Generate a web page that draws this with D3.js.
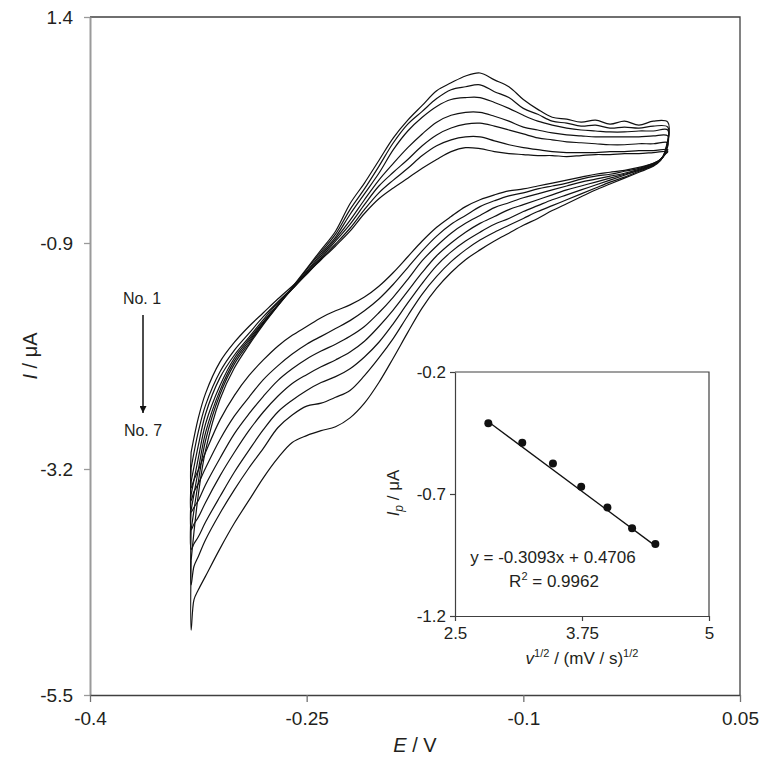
<!DOCTYPE html>
<html>
<head>
<meta charset="utf-8">
<script src="https://cdn.jsdelivr.net/npm/d3@7"></script>
<style>
  body { margin: 0; background: #fff; }
  svg { display: block; font-family: "Liberation Sans", Arial, sans-serif; }
</style>
</head>
<body>
<svg id="chart" width="771" height="777"></svg>
<script>
// potential grid (V) for the forward and the reverse sweep
const fwdE = [-0.33,-0.325,-0.32,-0.31,-0.30,-0.29,-0.28,-0.27,-0.26,-0.25,-0.24,-0.23,-0.22,-0.21,-0.20,-0.19,-0.18,-0.17,-0.16,-0.15,-0.14,-0.13,-0.12,-0.11,-0.10,-0.09,-0.08,-0.07,-0.06,-0.05,-0.04,-0.03,-0.02,-0.01,0.00];
const revE = [-0.002,-0.005,-0.01,-0.02,-0.03,-0.04,-0.05,-0.06,-0.07,-0.08,-0.09,-0.10,-0.11,-0.12,-0.13,-0.14,-0.15,-0.16,-0.17,-0.18,-0.19,-0.20,-0.21,-0.22,-0.23,-0.24,-0.25,-0.26,-0.27,-0.28,-0.29,-0.30,-0.31,-0.32,-0.325,-0.328,-0.33];

// currents (uA), voltammograms No. 1 ... No. 7
const fwd1 = [-3.03,-2.68,-2.43,-2.11,-1.91,-1.75,-1.61,-1.47,-1.34,-1.21,-1.07,-0.93,-0.78,-0.60,-0.45,-0.34,-0.24,-0.14,-0.05,0.03,0.07,0.06,0.03,0.01,0.00,-0.01,-0.01,-0.02,-0.01,0.00,0.00,0.01,0.01,0.02,0.03];
const fwd2 = [-3.19,-2.82,-2.55,-2.21,-1.99,-1.82,-1.65,-1.50,-1.36,-1.22,-1.06,-0.91,-0.75,-0.56,-0.39,-0.26,-0.14,-0.01,0.09,0.15,0.18,0.18,0.14,0.10,0.07,0.05,0.03,0.02,0.02,0.02,0.03,0.03,0.04,0.04,0.05];
const fwd3 = [-3.33,-2.96,-2.64,-2.27,-2.04,-1.86,-1.68,-1.51,-1.37,-1.21,-1.05,-0.88,-0.71,-0.51,-0.32,-0.18,-0.05,0.09,0.20,0.27,0.31,0.32,0.29,0.25,0.21,0.17,0.15,0.13,0.12,0.11,0.10,0.10,0.11,0.11,0.12];
const fwd4 = [-3.46,-3.09,-2.74,-2.35,-2.07,-1.88,-1.70,-1.53,-1.37,-1.20,-1.03,-0.86,-0.67,-0.46,-0.26,-0.09,0.07,0.21,0.33,0.40,0.43,0.43,0.39,0.34,0.28,0.25,0.22,0.20,0.19,0.18,0.18,0.18,0.18,0.19,0.19];
const fwd5 = [-3.62,-3.21,-2.83,-2.40,-2.10,-1.90,-1.71,-1.53,-1.36,-1.19,-1.01,-0.84,-0.61,-0.40,-0.19,0.05,0.24,0.38,0.49,0.56,0.58,0.58,0.53,0.47,0.40,0.34,0.30,0.27,0.25,0.24,0.23,0.23,0.24,0.24,0.25];
const fwd6 = [-3.82,-3.33,-2.91,-2.44,-2.13,-1.92,-1.72,-1.54,-1.36,-1.17,-0.99,-0.81,-0.56,-0.35,-0.12,0.12,0.31,0.44,0.57,0.66,0.69,0.71,0.64,0.58,0.47,0.41,0.34,0.32,0.29,0.30,0.27,0.28,0.27,0.29,0.28];
const fwd7 = [-4.13,-3.46,-3.01,-2.49,-2.17,-1.94,-1.73,-1.54,-1.35,-1.16,-0.97,-0.78,-0.50,-0.29,-0.06,0.17,0.35,0.50,0.65,0.73,0.80,0.83,0.76,0.69,0.56,0.46,0.38,0.36,0.33,0.35,0.31,0.34,0.30,0.34,0.33];

const rev1 = [0.00,-0.05,-0.09,-0.13,-0.16,-0.18,-0.20,-0.23,-0.26,-0.29,-0.32,-0.35,-0.37,-0.41,-0.46,-0.53,-0.63,-0.74,-0.88,-1.04,-1.20,-1.34,-1.45,-1.53,-1.59,-1.66,-1.75,-1.84,-1.95,-2.09,-2.25,-2.45,-2.70,-3.03,-3.21,-3.31,-3.39];
const rev2 = [0.00,-0.05,-0.09,-0.14,-0.17,-0.20,-0.22,-0.25,-0.29,-0.32,-0.35,-0.39,-0.42,-0.47,-0.53,-0.62,-0.71,-0.83,-0.98,-1.15,-1.32,-1.47,-1.59,-1.69,-1.77,-1.85,-1.93,-2.03,-2.15,-2.29,-2.47,-2.66,-2.90,-3.19,-3.35,-3.43,-3.52];
const rev3 = [0.01,-0.05,-0.10,-0.15,-0.19,-0.22,-0.25,-0.28,-0.32,-0.36,-0.40,-0.44,-0.49,-0.54,-0.62,-0.70,-0.80,-0.93,-1.08,-1.27,-1.45,-1.61,-1.75,-1.85,-1.93,-2.00,-2.08,-2.18,-2.30,-2.46,-2.64,-2.84,-3.09,-3.36,-3.52,-3.59,-3.64];
const rev4 = [0.01,-0.05,-0.10,-0.16,-0.20,-0.24,-0.28,-0.32,-0.36,-0.41,-0.46,-0.51,-0.56,-0.63,-0.70,-0.79,-0.90,-1.03,-1.20,-1.39,-1.58,-1.75,-1.90,-2.01,-2.09,-2.16,-2.24,-2.33,-2.46,-2.62,-2.81,-3.03,-3.27,-3.54,-3.69,-3.76,-3.82];
const rev5 = [0.02,-0.05,-0.11,-0.16,-0.21,-0.26,-0.31,-0.36,-0.41,-0.46,-0.52,-0.58,-0.65,-0.71,-0.79,-0.88,-0.99,-1.13,-1.31,-1.51,-1.72,-1.91,-2.06,-2.18,-2.26,-2.32,-2.40,-2.50,-2.62,-2.80,-3.01,-3.23,-3.48,-3.74,-3.89,-3.96,-4.02];
const rev6 = [0.02,-0.06,-0.11,-0.17,-0.23,-0.28,-0.34,-0.40,-0.46,-0.52,-0.58,-0.65,-0.72,-0.79,-0.87,-0.97,-1.09,-1.24,-1.42,-1.64,-1.87,-2.07,-2.25,-2.40,-2.47,-2.53,-2.56,-2.65,-2.78,-2.99,-3.19,-3.41,-3.65,-3.92,-4.09,-4.19,-4.38];
const rev7 = [0.03,-0.06,-0.12,-0.18,-0.24,-0.30,-0.36,-0.43,-0.50,-0.57,-0.65,-0.72,-0.80,-0.88,-0.97,-1.07,-1.20,-1.36,-1.56,-1.81,-2.07,-2.32,-2.53,-2.68,-2.77,-2.81,-2.86,-2.93,-3.09,-3.29,-3.52,-3.75,-4.01,-4.29,-4.43,-4.53,-4.84];

const scans = [[fwd1, rev1], [fwd2, rev2], [fwd3, rev3], [fwd4, rev4], [fwd5, rev5], [fwd6, rev6], [fwd7, rev7]];

const xTicks = [-0.4, -0.25, -0.1, 0.05];
const yTicks = [1.4, -0.9, -3.2, -5.5];

// inset: peak current vs square root of scan rate
const sqrtRate = [2.828, 3.162, 3.464, 3.742, 4.0, 4.243, 4.472];
const peakI = [-0.41, -0.49, -0.575, -0.67, -0.755, -0.84, -0.905];
const fitSlope = -0.3093, fitIntercept = 0.4706;
const insetXTicks = [2.5, 3.75, 5];
const insetYTicks = [-0.2, -0.7, -1.2];

const svg = d3.select('#chart');
const ink = '#231f20';

// ---- main plot ----
const x = d3.scaleLinear().domain([-0.4, 0.05]).range([90, 740]);
const y = d3.scaleLinear().domain([-5.5, 1.4]).range([695, 17]);

// frame (top + right)
svg.append('path')
  .attr('d', `M90,17H740V695`)
  .attr('fill', 'none')
  .attr('stroke', '#404040')
  .attr('stroke-width', 1.3);

const yAxis = svg.append('g')
  .attr('transform', 'translate(90,0)')
  .call(d3.axisLeft(y).tickValues(yTicks).tickSize(6).tickSizeOuter(0).tickFormat(d => String(d)));
yAxis.select('.domain').attr('stroke', '#9a9a9a').attr('stroke-width', 2);
yAxis.selectAll('.tick line').attr('stroke', '#9a9a9a').attr('stroke-width', 1.3);
yAxis.selectAll('.tick text').attr('font-size', 19).attr('fill', ink).attr('x', -17).attr('font-family', 'Liberation Sans, Arial, sans-serif');

const xAxis = svg.append('g')
  .attr('transform', 'translate(0,695)')
  .call(d3.axisBottom(x).tickValues(xTicks).tickSize(7).tickSizeOuter(0).tickFormat(d => String(d)));
xAxis.select('.domain').attr('stroke', '#404040').attr('stroke-width', 1.3);
xAxis.selectAll('.tick line').attr('stroke', '#707070').attr('stroke-width', 1.3);
xAxis.selectAll('.tick text').attr('font-size', 19).attr('fill', ink).attr('y', 17).attr('font-family', 'Liberation Sans, Arial, sans-serif');

const line = d3.line()
  .x(d => x(d[0])).y(d => y(d[1]))
  .curve(d3.curveCatmullRom.alpha(0.5));

scans.forEach(([f, r]) => {
  const pts = fwdE.map((e, i) => [e, f[i]]).concat(revE.map((e, i) => [e, r[i]]));
  pts.push(pts[0]);
  svg.append('path')
    .datum(pts)
    .attr('fill', 'none')
    .attr('stroke', '#111')
    .attr('stroke-width', 1.2)
    .attr('stroke-linejoin', 'round')
    .attr('d', line);
});

// axis titles
svg.append('text')
  .attr('x', 415).attr('y', 752)
  .attr('text-anchor', 'middle')
  .attr('font-size', 20).attr('fill', ink)
  .html('<tspan font-style="italic">E</tspan> / V');

svg.append('text')
  .attr('transform', 'translate(37,356) rotate(-90)')
  .attr('text-anchor', 'middle')
  .attr('font-size', 20).attr('fill', ink)
  .html('<tspan font-style="italic">I</tspan> / μA');

// scan order annotation
svg.append('defs').append('marker')
  .attr('id', 'head')
  .attr('viewBox', '0 0 10 10')
  .attr('refX', 10).attr('refY', 5)
  .attr('markerWidth', 7).attr('markerHeight', 7)
  .attr('markerUnits', 'userSpaceOnUse')
  .attr('orient', 'auto')
  .append('path').attr('d', 'M0,0L10,5L0,10Z').attr('fill', '#111');

svg.append('line')
  .attr('x1', 143).attr('y1', 315).attr('x2', 143).attr('y2', 413)
  .attr('stroke', '#111').attr('stroke-width', 1.5)
  .attr('marker-end', 'url(#head)');

svg.append('text').attr('x', 142).attr('y', 304)
  .attr('text-anchor', 'middle').attr('font-size', 16).attr('fill', ink).text('No. 1');
svg.append('text').attr('x', 143).attr('y', 436)
  .attr('text-anchor', 'middle').attr('font-size', 16).attr('fill', ink).text('No. 7');

// ---- inset ----
const ix = d3.scaleLinear().domain([2.5, 5]).range([455, 709]);
const iy = d3.scaleLinear().domain([-1.2, -0.2]).range([616, 372]);

svg.append('rect')
  .attr('x', 455).attr('y', 372).attr('width', 254).attr('height', 244)
  .attr('fill', '#fff');

svg.append('path')
  .attr('d', 'M455,372H709V616')
  .attr('fill', 'none').attr('stroke', '#404040').attr('stroke-width', 1.2);

const iyAxis = svg.append('g')
  .attr('transform', 'translate(455,0)')
  .call(d3.axisLeft(iy).tickValues(insetYTicks).tickSize(5).tickSizeOuter(0).tickFormat(d => String(d)));
const ixAxis = svg.append('g')
  .attr('transform', 'translate(0,616)')
  .call(d3.axisBottom(ix).tickValues(insetXTicks).tickSize(5).tickSizeOuter(0).tickFormat(d => String(d)));
[iyAxis, ixAxis].forEach(g => {
  g.select('.domain').attr('stroke', '#404040').attr('stroke-width', 1.2);
  g.selectAll('.tick line').attr('stroke', '#404040').attr('stroke-width', 1.2);
  g.selectAll('.tick text').attr('font-size', 17).attr('fill', ink).attr('font-family', 'Liberation Sans, Arial, sans-serif');
});
iyAxis.selectAll('.tick text').attr('x', -9);
ixAxis.selectAll('.tick text').attr('y', 11);

svg.append('line')
  .attr('x1', ix(sqrtRate[0])).attr('y1', iy(fitSlope * sqrtRate[0] + fitIntercept))
  .attr('x2', ix(sqrtRate[6])).attr('y2', iy(fitSlope * sqrtRate[6] + fitIntercept))
  .attr('stroke', '#111').attr('stroke-width', 1.3);

svg.selectAll('circle.pt')
  .data(sqrtRate)
  .enter().append('circle')
    .attr('class', 'pt')
    .attr('cx', d => ix(d))
    .attr('cy', (d, i) => iy(peakI[i]))
    .attr('r', 4)
    .attr('fill', '#111');

svg.append('text').attr('x', 553).attr('y', 563)
  .attr('text-anchor', 'middle').attr('font-size', 17).attr('fill', ink)
  .text('y = -0.3093x + 0.4706');
svg.append('text').attr('x', 554).attr('y', 587)
  .attr('text-anchor', 'middle').attr('font-size', 17).attr('fill', ink)
  .html('R<tspan dy="-7" font-size="11">2</tspan><tspan dy="7"> = 0.9962</tspan>');

svg.append('text')
  .attr('transform', 'translate(399,493) rotate(-90)')
  .attr('text-anchor', 'middle').attr('font-size', 17).attr('fill', ink)
  .html('<tspan font-style="italic">I</tspan><tspan font-style="italic" font-size="12" dy="4">p</tspan><tspan dy="-4"> / μA</tspan>');

svg.append('text')
  .attr('x', 582).attr('y', 664)
  .attr('text-anchor', 'middle').attr('font-size', 17).attr('fill', ink)
  .html('<tspan font-style="italic">v</tspan><tspan font-size="11" dy="-7">1/2</tspan><tspan dy="7"> / (mV / s)</tspan><tspan font-size="11" dy="-7">1/2</tspan>');
</script>
</body>
</html>
